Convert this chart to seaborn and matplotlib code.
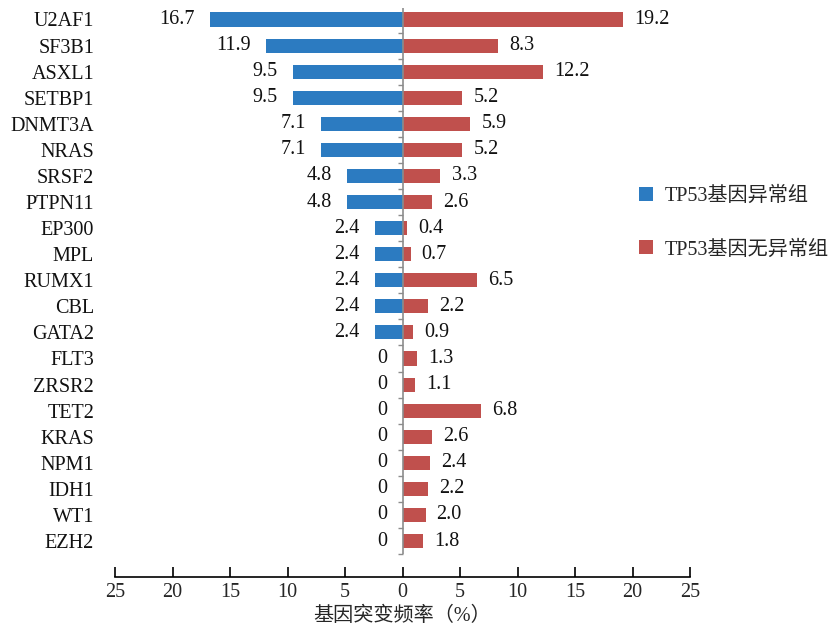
import matplotlib
matplotlib.use("Agg")
import matplotlib.pyplot as plt
import seaborn as sns
import numpy as np
import pandas as pd
from matplotlib.patches import Patch
from matplotlib.ticker import FixedLocator, FuncFormatter

genes = ["U2AF1", "SF3B1", "ASXL1", "SETBP1", "DNMT3A", "NRAS", "SRSF2", "PTPN11",
         "EP300", "MPL", "RUMX1", "CBL", "GATA2", "FLT3", "ZRSR2", "TET2", "KRAS",
         "NPM1", "IDH1", "WT1", "EZH2"]
tp53_abn = [16.7, 11.9, 9.5, 9.5, 7.1, 7.1, 4.8, 4.8, 2.4, 2.4, 2.4, 2.4, 2.4,
            0, 0, 0, 0, 0, 0, 0, 0]
tp53_nor = [19.2, 8.3, 12.2, 5.2, 5.9, 5.2, 3.3, 2.6, 0.4, 0.7, 6.5, 2.2, 0.9,
            1.3, 1.1, 6.8, 2.6, 2.4, 2.2, 2.0, 1.8]
series_names = ["TP53基因异常组", "TP53基因无异常组"]
xticks = [-25, -20, -15, -10, -5, 0, 5, 10, 15, 20, 25]
xlabel = "基因突变频率（%）"

blue = "#2c7bc1"
red = "#c0504d"

sns.set_theme(style="white")
plt.rcParams['font.family'] = ['Liberation Serif', 'Noto Sans CJK SC']

df = pd.DataFrame({"gene": genes,
                   "abn": -np.array(tp53_abn),
                   "nor": np.array(tp53_nor)})

fig = plt.figure(figsize=(8.35, 6.32), dpi=100)
ax = fig.add_axes([115 / 835, 1 - 577 / 632, 575 / 835, (577 - 8) / 632])

sns.barplot(data=df, x="abn", y="gene", color=blue, width=0.54, ax=ax,
            orient="h", saturation=1, edgecolor="none")
sns.barplot(data=df, x="nor", y="gene", color=red, width=0.54, ax=ax,
            orient="h", saturation=1, edgecolor="none")

n = len(genes)
ax.set_xlim(-25, 25)
ax.set_ylim(n - 1 + 1.38, -0.44)

def fmt(v):
    return "0" if v == 0 else f"{v:.1f}"

for i, (a, b) in enumerate(zip(tp53_abn, tp53_nor)):
    ax.annotate(fmt(a), xy=(-a, i), xytext=(-11, 0), textcoords="offset points",
                ha="right", va="center", fontsize=14.5, color="#111111")
    ax.annotate(fmt(b), xy=(b, i), xytext=(8, 0), textcoords="offset points",
                ha="left", va="center", fontsize=14.5, color="#111111")

# central axis line with category separator ticks
ax.vlines(0, -0.5, n - 0.5, color="#8c8c8c", lw=1.2, zorder=3)
sep = np.arange(-0.5, n, 1.0)
ax.hlines(sep, -0.35, 0, color="#8c8c8c", lw=1.0, zorder=3)

for s in ["top", "right", "left"]:
    ax.spines[s].set_visible(False)
ax.spines["bottom"].set_color("black")
ax.spines["bottom"].set_linewidth(1.2)

ax.xaxis.set_major_locator(FixedLocator(xticks))
ax.xaxis.set_major_formatter(FuncFormatter(lambda v, p: f"{abs(int(round(v)))}"))
ax.tick_params(axis="x", direction="in", length=7, width=1.2, color="black",
               labelsize=14.5, pad=4, bottom=True)
ax.tick_params(axis="y", length=0, labelsize=14.5, pad=15)
ax.set_ylabel("")
ax.set_xlabel(xlabel, fontsize=14.5, labelpad=4)
for t in ax.get_yticklabels():
    t.set_color("#111111")

handles = [Patch(facecolor=blue, edgecolor="none"), Patch(facecolor=red, edgecolor="none")]
fig.legend(handles, series_names, loc="center left",
           bbox_to_anchor=(625 / 835, 1 - 223 / 632), frameon=False, fontsize=14.5,
           handlelength=0.7, handleheight=0.7, handletextpad=0.55, labelspacing=1.7,
           borderpad=0.2)

fig.savefig("out.png", dpi=100)
